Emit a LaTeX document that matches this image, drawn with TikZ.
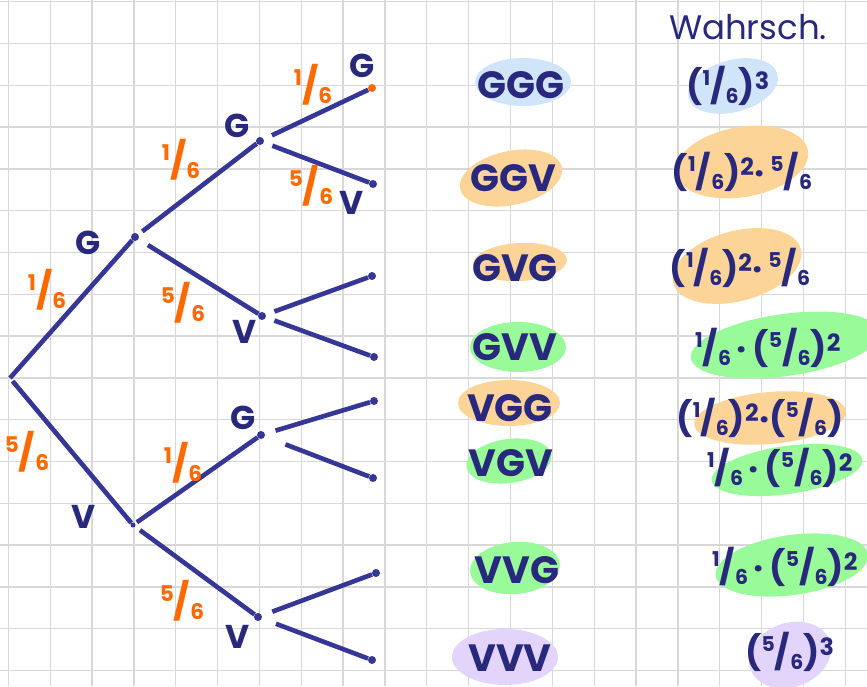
\documentclass[tikz,border=0pt]{standalone}
\usepackage{fontspec}
\setmainfont{Poppins}
\definecolor{gridc}{RGB}{216,216,216}
\definecolor{lineblue}{RGB}{54,54,150}
\definecolor{ink}{RGB}{40,40,125}
\definecolor{orng}{RGB}{255,105,0}
\definecolor{bblue}{RGB}{208,228,250}
\definecolor{borange}{RGB}{252,212,152}
\definecolor{bgreen}{RGB}{152,250,152}
\definecolor{bpurple}{RGB}{226,212,250}
\newcommand\hfr[2]{\raisebox{.38em}{\scalebox{.6}{#1}}/\raisebox{-.14em}{\scalebox{.6}{#2}}}
\begin{document}
\begin{tikzpicture}[x=1pt,y=-1pt,
  edge/.style={lineblue, line width=4.6pt},
  dot/.style={circle, fill=lineblue, inner sep=0pt, minimum size=8pt},
  odot/.style={circle, fill=orng, inner sep=0pt, minimum size=8pt},
  lbl/.style={text=ink, font=\fontsize{33}{33}\selectfont\bfseries, inner sep=0pt},
  frc/.style={text=orng, font=\fontsize{36}{36}\selectfont\bfseries, inner sep=0pt},
  outc/.style={text=ink, font=\fontsize{38}{38}\selectfont\bfseries, inner sep=0pt},
  prob/.style={text=ink, font=\fontsize{34}{34}\selectfont\bfseries, inner sep=0pt},
  hdr/.style={text=ink, font=\fontsize{34}{34}\selectfont, inner sep=0pt}]
\useasboundingbox (0,0) rectangle (867,686);
\fill[white] (0,0) rectangle (867,686);
% grid
\foreach \i in {0,...,20} \draw[gridc, line width=1.3pt] ({8.3+41.85*\i},0) -- ({8.3+41.85*\i},686);
\foreach \j in {0,...,16} \draw[gridc, line width=1.3pt] (0,{1.7+41.8*\j}) -- (867,{1.7+41.8*\j});

% highlight blobs
\fill[bblue] (523,82) ellipse [x radius=48pt, y radius=24pt];
\fill[bblue, rotate around={15:(733,86)}] (733,86) ellipse [x radius=46pt, y radius=26pt];
\fill[borange, rotate around={12:(511,178)}] (511,178) ellipse [x radius=52pt, y radius=27pt];
\fill[borange, rotate around={10:(742,162)}] (742,162) ellipse [x radius=67pt, y radius=35pt];
\fill[borange, rotate around={3:(520,262)}] (520,262) ellipse [x radius=47pt, y radius=19pt];
\fill[borange, rotate around={15:(737,266)}] (737,266) ellipse [x radius=66pt, y radius=35pt];
\fill[bgreen] (518,347) ellipse [x radius=48pt, y radius=25pt];
\fill[bgreen, rotate around={8:(785,345)}] (785,345) ellipse [x radius=95pt, y radius=31pt];
\fill[borange] (509,403) ellipse [x radius=51pt, y radius=23pt];
\fill[borange, rotate around={5:(770,418)}] (770,418) ellipse [x radius=76pt, y radius=26pt];
\fill[bgreen, rotate around={8:(509,461)}] (509,461) ellipse [x radius=43pt, y radius=22pt];
\fill[bgreen, rotate around={8:(787,470)}] (787,470) ellipse [x radius=76pt, y radius=24pt];
\fill[bgreen, rotate around={5:(515,568)}] (515,568) ellipse [x radius=45pt, y radius=26pt];
\fill[bgreen, rotate around={8:(792,565)}] (792,565) ellipse [x radius=77pt, y radius=30pt];
\fill[bpurple] (505,657) ellipse [x radius=53pt, y radius=28pt];
\fill[bpurple, rotate around={20:(790,655)}] (790,655) ellipse [x radius=42pt, y radius=32pt];

% tree vertices
\coordinate (r) at (10,378);
\node[dot] (g1) at (135,237) {};
\node[dot, minimum size=5pt] (v1) at (133,525) {};
\node[dot] (gg) at (260,141) {};
\node[dot] (gv) at (262,316) {};
\node[dot] (vg) at (261,435) {};
\node[dot] (vv) at (258,617) {};
\node[odot] (ggg) at (372,88) {};
\node[dot] (ggv) at (373,184) {};
\node[dot] (gvg) at (372,276) {};
\node[dot] (gvv) at (374,357) {};
\node[dot] (vgg) at (374,401) {};
\node[dot] (vgv) at (373,478) {};
\node[dot] (vvg) at (376,573) {};
\node[dot] (vvv) at (372,660) {};

% edges
\draw[edge] (r) -- (g1);
\draw[edge, shorten <=4pt] (r) -- (v1);
\draw[edge, shorten <=5pt] (g1) -- (gg);
\draw[edge, shorten <=11pt] (g1) -- (gv);
\draw[edge, shorten <=9pt] (gg) -- (ggg);
\draw[edge, shorten <=9pt] (gg) -- (ggv);
\draw[edge, shorten <=9pt] (gv) -- (gvg);
\draw[edge, shorten <=9pt] (gv) -- (gvv);
\draw[edge, shorten <=2pt] (v1) -- (vg);
\draw[edge, shorten <=6pt] (v1) -- (vv);
\draw[edge, shorten <=11pt] (vg) -- (vgg);
\draw[edge, shorten <=22pt] (vg) -- (vgv);
\draw[edge, shorten <=11pt] (vv) -- (vvg);
\draw[edge, shorten <=15pt] (vv) -- (vvv);

% tree labels
\node[lbl] (lg1) at (88,243) {G};
\node[lbl] (lv1) at (84,517) {V};
\node[lbl] (lgg) at (237,126) {G};
\node[lbl] (lgv) at (245,332) {V};
\node[lbl] (lvg) at (243,418) {G};
\node[lbl] (lvv) at (238,637) {V};
\node[lbl] (lggg) at (362,66) {G};
\node[lbl] (lggv) at (352,203) {V};

\node[frc] (f1) at (47,290) {\hfr{1}{6}};
\node[frc] (f2) at (27,452) {\hfr{5}{6}};
\node[frc] (f3) at (181,160) {\hfr{1}{6}};
\node[frc] (f4) at (183,303) {\hfr{5}{6}};
\node[frc] (f5) at (183,463) {\hfr{1}{6}};
\node[frc] (f6) at (182,601) {\hfr{5}{6}};
\node[frc] (f7) at (313,85) {\hfr{1}{6}};
\node[frc] (f8) at (311,186) {\hfr{5}{6}};

% outcomes
\node[outc] (o1) at (521,85) {GGG};
\node[outc] (o2) at (513,178) {GGV};
\node[outc] (o3) at (515,268) {GVG};
\node[outc] (o4) at (515,347) {GVV};
\node[outc] (o5) at (510,408) {VGG};
\node[outc] (o6) at (511,463) {VGV};
\node[outc] (o7) at (517,570) {VVG};
\node[outc] (o8) at (510,658) {VVV};

% probabilities
\node[hdr] (h) at (748,27) {Wahrsch.};
\node[prob] (p1) at (728,86) {(\hfr{1}{6})\textsuperscript{3}};
\node[prob] (p2) at (742,172) {(\hfr{1}{6})\textsuperscript{2}·\,\hfr{5}{6}};
\node[prob] (p3) at (740,268) {(\hfr{1}{6})\textsuperscript{2}·\,\hfr{5}{6}};
\node[prob] (p4) at (768,348) {\hfr{1}{6}\,·\,(\hfr{5}{6})\textsuperscript{2}};
\node[prob] (p5) at (760,418) {(\hfr{1}{6})\textsuperscript{2}·(\hfr{5}{6})};
\node[prob] (p6) at (780,468) {\hfr{1}{6}\,·\,(\hfr{5}{6})\textsuperscript{2}};
\node[prob] (p7) at (785,567) {\hfr{1}{6}\,·\,(\hfr{5}{6})\textsuperscript{2}};
\node[prob] (p8) at (790,652) {(\hfr{5}{6})\textsuperscript{3}};
\end{tikzpicture}
\end{document}
